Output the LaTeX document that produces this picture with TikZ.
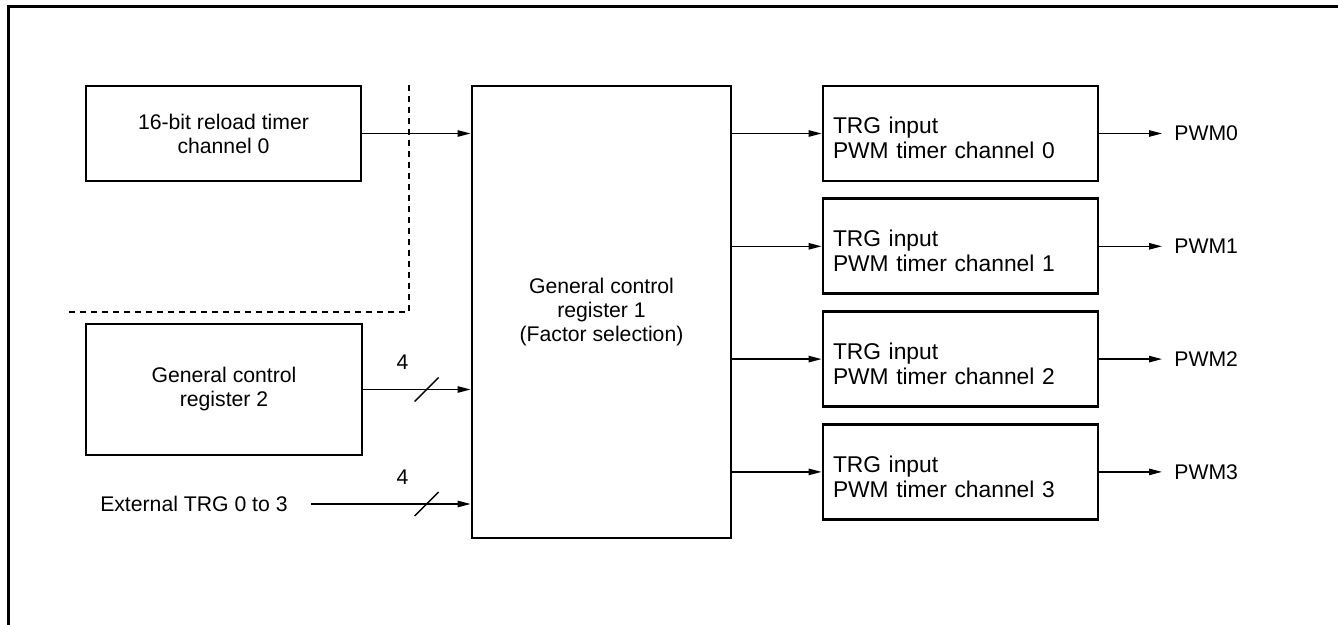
\documentclass[tikz,border=0pt]{standalone}
\usepackage{fontspec}
\setmainfont{Liberation Sans}
\usetikzlibrary{arrows.meta,calc}

\begin{document}
\begin{tikzpicture}[x=0.5pt, y=-0.5pt,
  every node/.style={font=\fontsize{10.6}{12}\selectfont},
  thinbox/.style={draw, line width=0.6pt, align=center, inner sep=0pt},
  thickbox/.style={draw, line width=1.4pt, align=center, inner sep=0pt},
  chbox/.style={thickbox, align=left, font=\fontsize{11.4}{12.5}\selectfont,
    text width=127.5pt, inner xsep=5pt, minimum height=47.5pt},
  sig/.style={line width=0.7pt, -{Triangle[length=6.5pt, width=3.2pt]}}]

  \useasboundingbox (0,0) rectangle (1338,625);

  % Outer frame (runs off the page at right and bottom)
  \draw[line width=1.5pt] (1360,7) -- (8,7) -- (8,650);

  % Source blocks
  \node[thinbox, minimum width=137.5pt, minimum height=47.5pt] (tmr) at (223.5,133.5) {16-bit reload timer\\channel 0};
  \node[thickbox, minimum width=138pt, minimum height=65.5pt] (gcr2) at (224,389.5) {General control\\register 2};
  \node[anchor=east, inner xsep=11.5pt] (ext) at (311,504) {External TRG 0 to 3};

  % Factor selection register
  \node[thickbox, minimum width=129.5pt, minimum height=226pt] (gcr1) at (601.5,312) {General control\\register 1\\(Factor selection)};

  % Boundary of the timer area
  \draw[dash pattern=on 3pt off 2.5pt, line width=0.7pt] (409,85) -- (409,312) -- (65,312);

  % Inputs
  \draw[sig] (tmr.east) -- (tmr.east -| gcr1.west);
  \foreach \src in {gcr2, ext} {
    \draw[sig] (\src.east) -- (\src.east -| gcr1.west);
    \draw[line width=0.7pt] ($(gcr1.west |- \src.east)+(-22pt,0)$) ++(-6pt,-6pt) -- ++(12pt,12pt);
    \node (bus\src) at ($(gcr1.west |- \src.east)+(-34pt,13.5pt)$) {4};
  }

  % PWM timer channels and outputs
  \foreach \i in {0,...,3} {
    \node[chbox] (pwm\i) at (960.5,{133.5+112.8*\i}) {\rule{0pt}{13pt}TRG input\\PWM timer channel \i};
    \node[anchor=west, inner xsep=6pt, inner ysep=0pt] (out\i) at (1162,{133.5+112.8*\i}) {PWM\i};
    \draw[sig] (gcr1.east |- pwm\i.west) -- (pwm\i.west);
    \draw[sig] (pwm\i.east) -- (out\i.west);
  }

\end{tikzpicture}
\end{document}
